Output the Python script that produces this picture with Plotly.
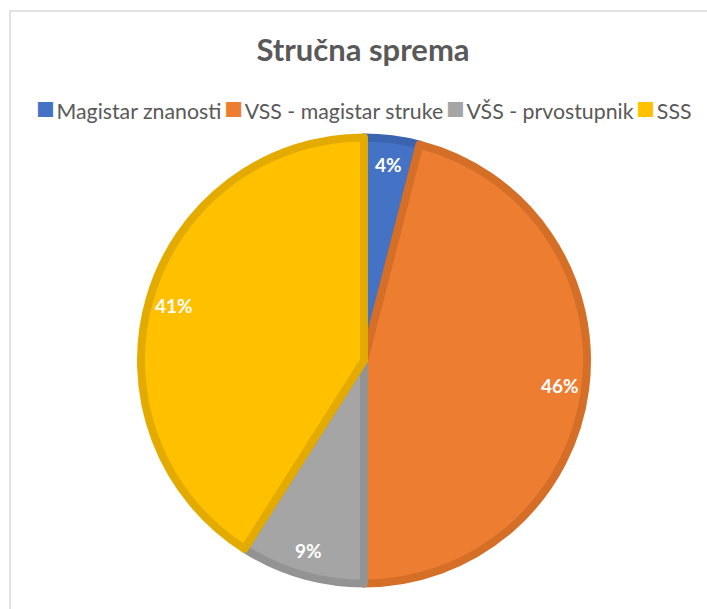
import math
import plotly.graph_objects as go

categories = ["Magistar znanosti", "VSS - magistar struke", "VŠS - prvostupnik", "SSS"]
values = [4, 46, 9, 41]
fill_colors = ["#4472C4", "#ED7D31", "#A5A5A5", "#FFC000"]
edge_colors = ["#3A64B0", "#D56E27", "#939393", "#E3AB00"]
title_text = "Stručna sprema"

W, H = 707, 609
cx, cy = 364, 360.5          # pie centre in pixels (from top-left)
R = 223                      # pie path radius in pixels
stroke = 8

fig = go.Figure()
fig.add_trace(go.Pie(
    labels=categories,
    values=values,
    sort=False,
    direction="clockwise",
    rotation=0,
    marker=dict(colors=fill_colors, line=dict(color=edge_colors, width=stroke)),
    textinfo="none",
    hoverinfo="label+percent",
    showlegend=False,
    domain=dict(x=[(cx - R) / W, (cx + R) / W],
                y=[(H - cy - R) / H, (H - cy + R) / H]),
))

# percent labels placed along each slice's bisector
total = sum(values)
cum = 0
annotations = []
for v in values:
    mid = (cum + v / 2) / total * 2 * math.pi
    cum += v
    r = 0.87 * (R + stroke / 2)
    px = cx + r * math.sin(mid)
    py = cy - r * math.cos(mid)
    annotations.append(dict(
        x=px / W, y=1 - py / H, xref="paper", yref="paper",
        text=f"<b>{round(100 * v / total)}%</b>", showarrow=False,
        font=dict(family="Lato", size=19, color="white"),
        xanchor="center", yanchor="middle",
    ))

# legend row built from the categories and colours
NB = "\u00a0"
legend_parts = []
for name, col in zip(categories, fill_colors):
    legend_parts.append(
        f"<span style='color:{col};font-size:31px'>■</span>"
        f"<span style='font-size:7px'>{NB}</span>{name}")
annotations.append(dict(
    x=364 / W, y=1 - 107 / H, xref="paper", yref="paper",
    text=f"<span style='font-size:11px'>{NB}</span>".join(legend_parts), showarrow=False,
    font=dict(family="Lato", size=21.3, color="#595959"),
    xanchor="center", yanchor="middle",
))

fig.update_layout(
    width=W, height=H,
    margin=dict(l=0, r=0, t=0, b=0),
    paper_bgcolor="white",
    plot_bgcolor="white",
    title=dict(text=f"<b>{title_text}</b>", x=363 / W, xanchor="center",
               y=1 - 50 / H, yanchor="middle",
               font=dict(family="Lato", size=31, color="#595959")),
    annotations=annotations,
    shapes=[dict(type="rect", xref="paper", yref="paper",
                 x0=10 / W, x1=1.05, y0=-0.05, y1=1 - 11 / H,
                 line=dict(color="#D9D9D9", width=1.5), fillcolor="rgba(0,0,0,0)")],
)

fig.write_html(
    "out.html",
    config={"displayModeBar": False},
    post_script="document.body.style.margin='0';document.body.style.overflow='hidden';",
)
